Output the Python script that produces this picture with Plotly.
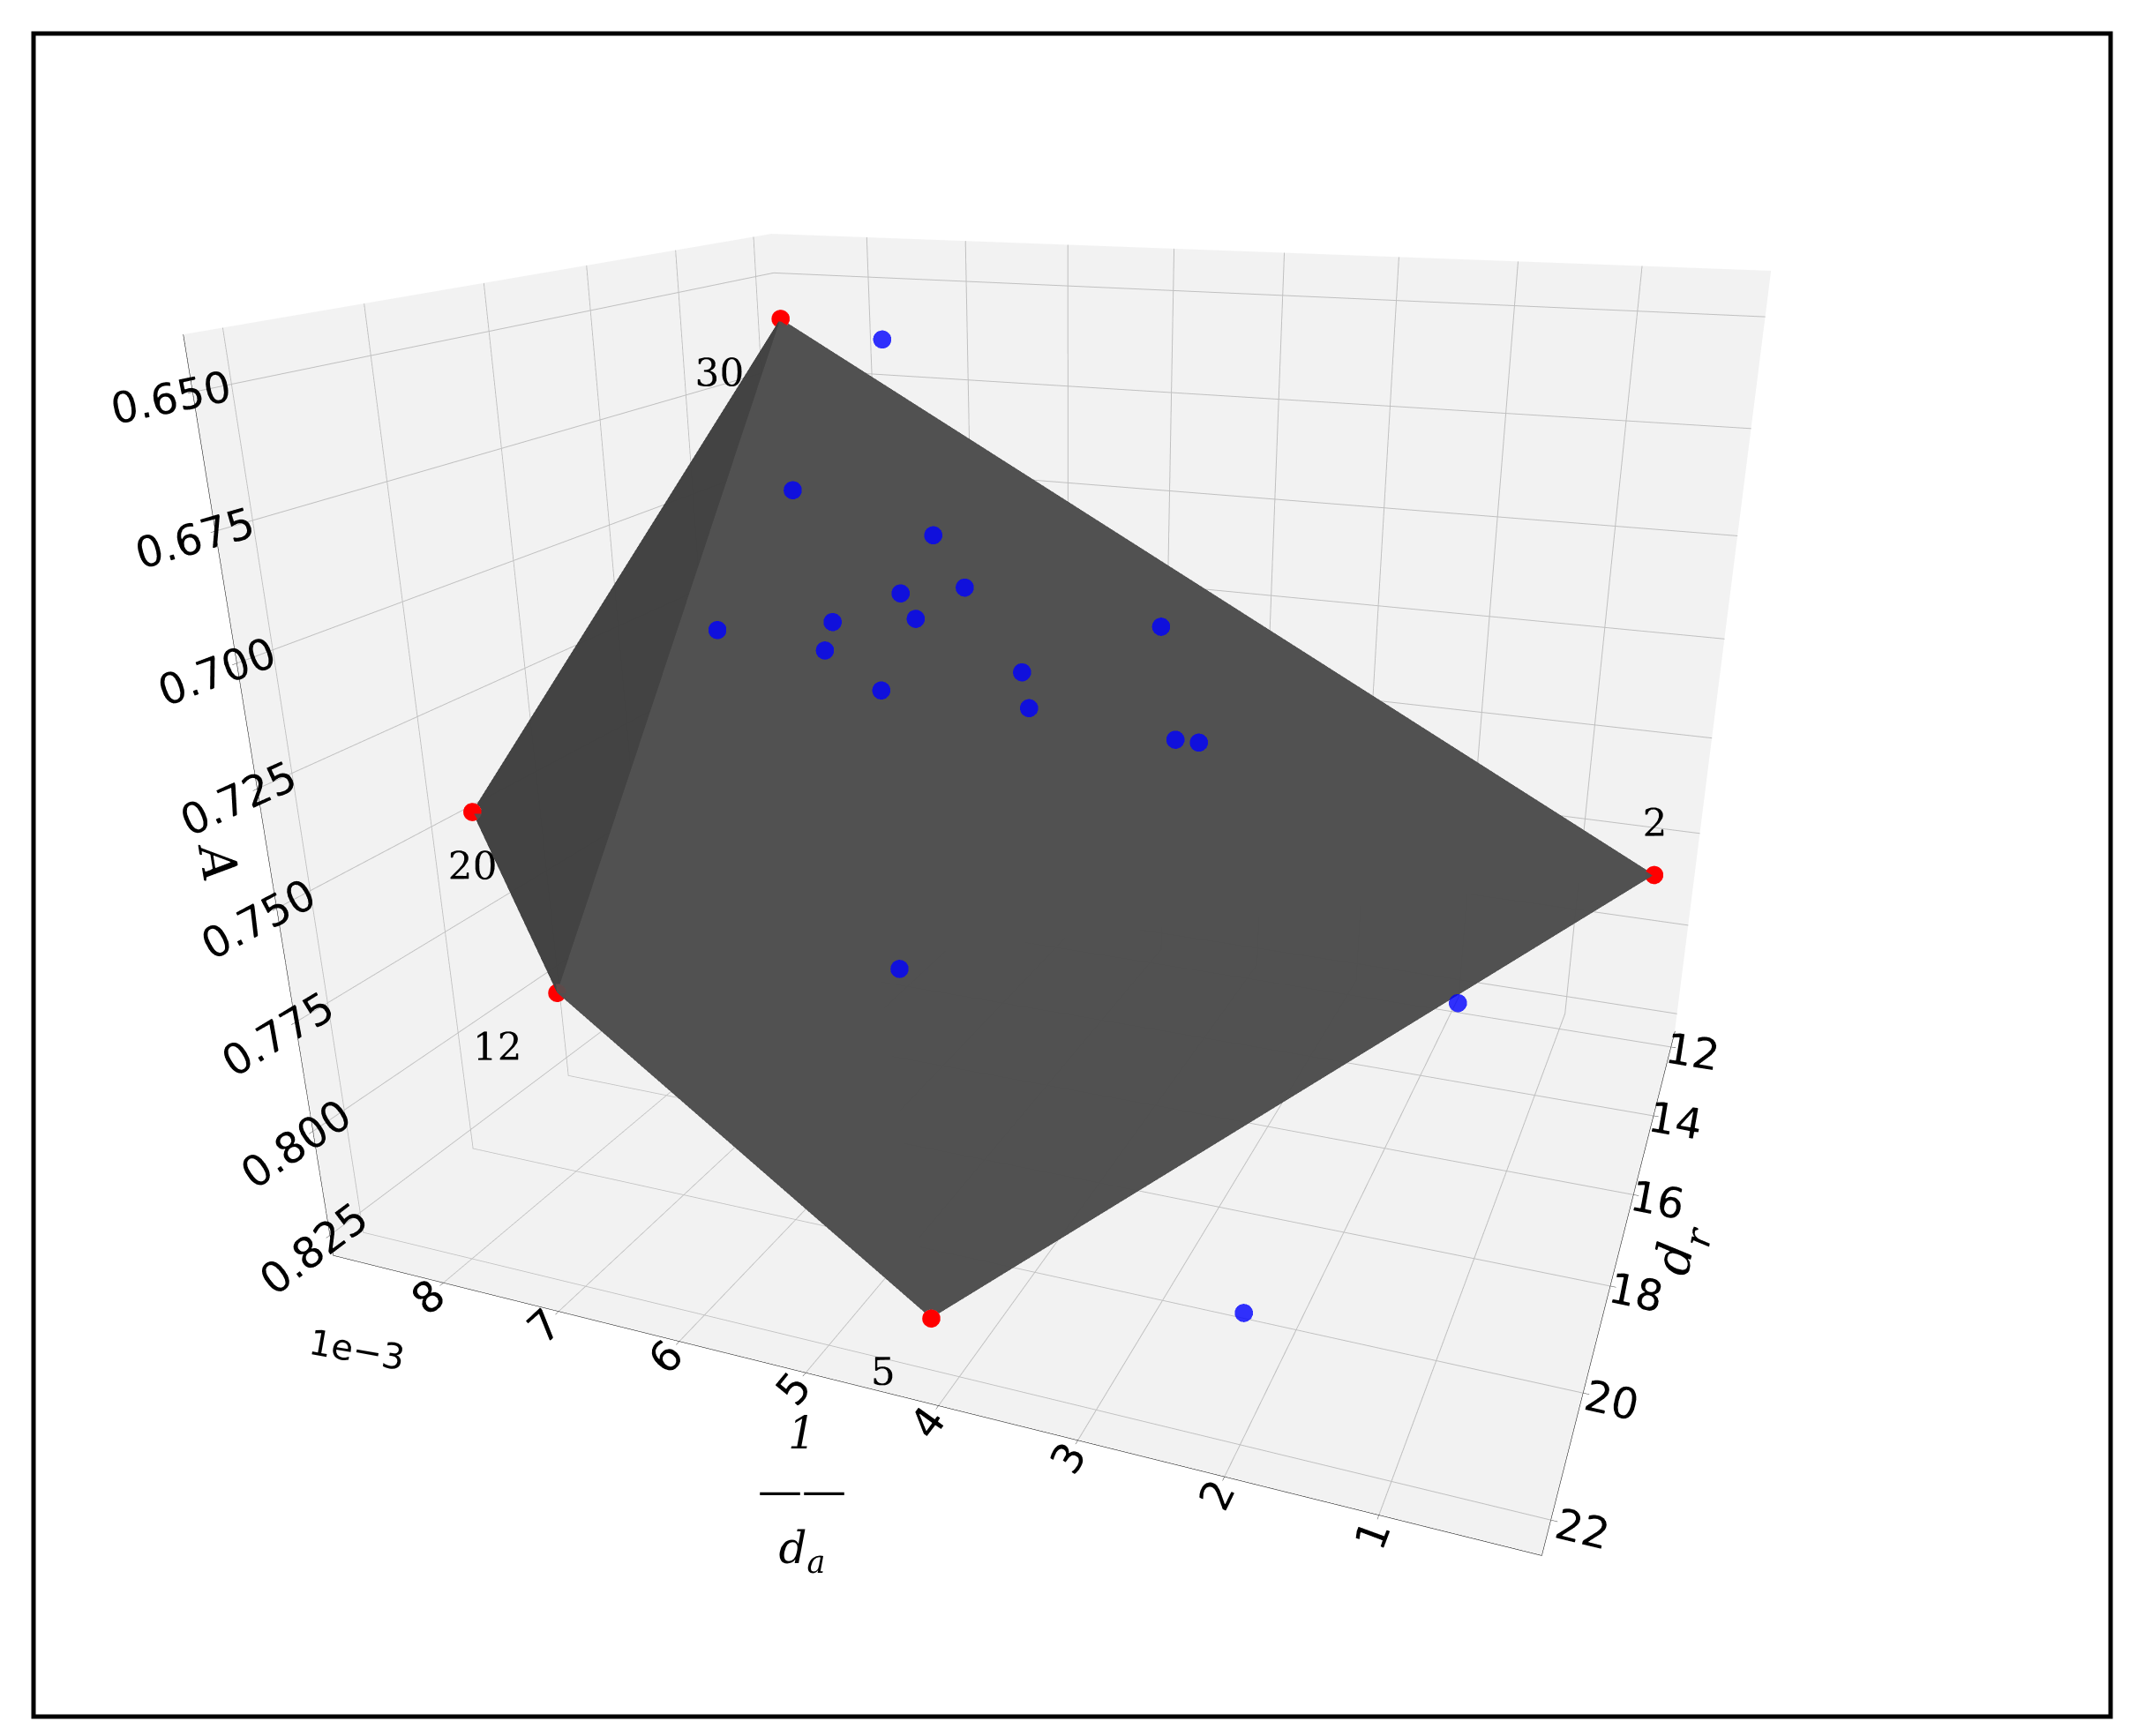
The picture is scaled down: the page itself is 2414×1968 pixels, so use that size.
import plotly.graph_objects as go

# red hull points (1/d_a, d_r, A) and labels
red_x = [8.0e-3, 8.6e-3, 8.0e-3, 4.2e-3, 0.3e-3]
red_y = [14.0, 20.0, 20.0, 22.0, 12.5]
red_z = [0.655, 0.745, 0.785, 0.818, 0.780]
red_lab = ["30", "20", "12", "5", "2"]
red_pos = ["bottom left", "bottom center", "bottom left", "bottom left", "top center"]

blue_x = [7.2e-3, 7.4e-3, 6.6e-3, 6.9e-3, 6.8e-3, 6.3e-3, 6.3e-3, 6.0e-3, 5.2e-3, 5.0e-3, 4.6e-3, 4.0e-3, 3.8e-3, 7.8e-3, 5.2e-3, 1.5e-3, 2.2e-3, 6.6e-3]
blue_y = [13.5, 15.5, 15.0, 16.0, 16.5, 15.5, 16.5, 15.0, 16.0, 16.5, 13.5, 15.5, 15.5, 16.5, 19.5, 16.0, 21.0, 14.0]
blue_z = [0.660, 0.690, 0.715, 0.718, 0.722, 0.718, 0.730, 0.712, 0.725, 0.730, 0.725, 0.740, 0.740, 0.720, 0.770, 0.790, 0.815, 0.705]

x_ticks = [1, 2, 3, 4, 5, 6, 7, 8]
y_ticks = [12, 14, 16, 18, 20, 22]
z_ticks = [0.650, 0.675, 0.700, 0.725, 0.750, 0.775, 0.800, 0.825]

fig = go.Figure()
fig.add_trace(go.Mesh3d(x=red_x, y=red_y, z=red_z, alphahull=0, color="#505050",
                        opacity=0.92, flatshading=True,
                        lighting=dict(ambient=0.8, diffuse=0.4, specular=0.1)))
fig.add_trace(go.Scatter3d(x=blue_x, y=blue_y, z=blue_z, mode="markers",
                           marker=dict(color="blue", size=12, opacity=0.8)))
fig.add_trace(go.Scatter3d(x=red_x, y=red_y, z=red_z, mode="markers+text",
                           marker=dict(color="red", size=12),
                           text=red_lab, textposition=red_pos,
                           textfont=dict(family="DejaVu Serif", size=44, color="black")))

tfont = dict(family="DejaVu Serif", size=56, color="black")
axstyle = dict(showbackground=True, backgroundcolor="#f2f2f2", gridcolor="#c0c0c0",
               linecolor="black", showline=True, ticks="outside",
               tickfont=dict(family="DejaVu Sans", size=24, color="black"))
fig.update_layout(
    width=2414, height=1968, showlegend=False, paper_bgcolor="white",
    margin=dict(l=30, r=30, t=30, b=30),
    scene=dict(
        xaxis=dict(axstyle, title=dict(text=""),
                   tickvals=[v * 1e-3 for v in x_ticks], ticktext=[str(v) for v in x_ticks],
                   range=[0, 9e-3], autorange=False),
        yaxis=dict(axstyle, title=dict(text="<i>d<sub>r</sub></i>", font=tfont), tickvals=y_ticks,
                   range=[11.5, 22.5]),
        zaxis=dict(axstyle, title=dict(text="<i>A</i>", font=tfont), tickvals=z_ticks,
                   ticktext=[f"{v:.3f}" for v in z_ticks],
                   range=[0.83, 0.64]),
        camera=dict(eye=dict(x=-0.72, y=1.85, z=0.68), up=dict(x=0, y=0, z=1),
                    center=dict(x=0, y=0, z=-0.14)),
        aspectmode="manual", aspectratio=dict(x=1.2, y=1.0, z=0.9),
        domain=dict(x=[0.0, 1.0], y=[0.0, 1.0]),
    ),
    annotations=[
        dict(xref="paper", yref="paper", x=0.13, y=0.20, text="1e−3",
             showarrow=False, textangle=10,
             font=dict(family="DejaVu Sans", size=40, color="black")),
        dict(xref="paper", yref="paper", x=0.37, y=0.08,
             text="<i>1</i><br>——<br><i>d<sub>a</sub></i>", showarrow=False,
             font=dict(family="DejaVu Serif", size=50, color="black")),
    ],
    shapes=[dict(type="rect", xref="paper", yref="paper", x0=0, y0=0, x1=1, y1=1,
                 line=dict(color="black", width=5))],
)
fig.write_html("out.html")
